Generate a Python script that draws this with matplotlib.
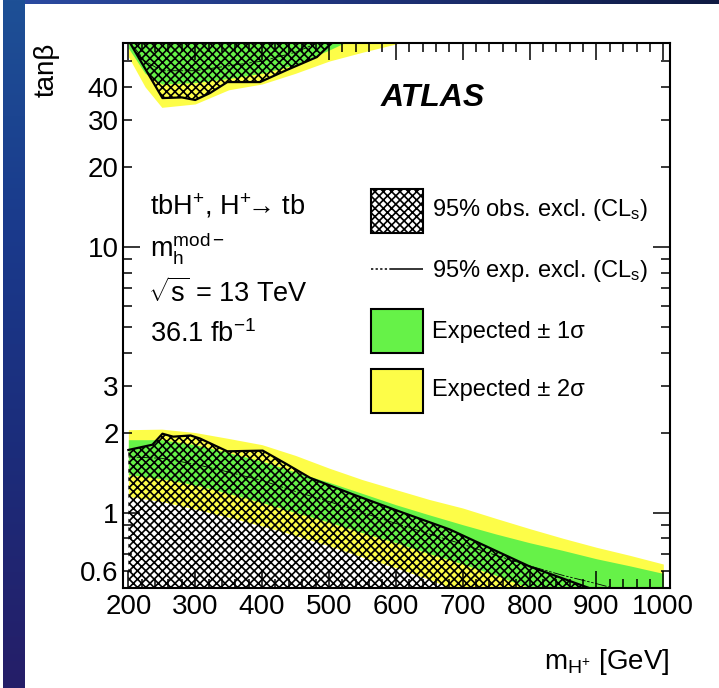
import numpy as np
import matplotlib
matplotlib.use("Agg")
import matplotlib.pyplot as plt
from matplotlib.patches import Rectangle
from matplotlib.lines import Line2D
from matplotlib.colors import LinearSegmentedColormap
from matplotlib.ticker import FixedLocator, MultipleLocator, FuncFormatter

plt.rcParams["font.family"] = ["Liberation Sans", "DejaVu Sans"]
plt.rcParams["mathtext.fontset"] = "custom"
plt.rcParams["mathtext.rm"] = "Liberation Sans"
plt.rcParams["mathtext.it"] = "Liberation Sans:italic"
plt.rcParams["mathtext.bf"] = "Liberation Sans:bold"
plt.rcParams["hatch.linewidth"] = 1.2

W, H = 719, 688
GREEN = "#66f248"
YELLOW = "#fdfd48"

# ---- low tan(beta) exclusion: expected bands ----
m_band = [200, 250, 300, 350, 400, 450, 500, 550, 600, 650, 700, 750, 800, 850, 900, 950, 1000]
lo_p2 = [2.05, 2.06, 2.00, 1.90, 1.80, 1.64, 1.47, 1.33, 1.22, 1.12, 1.04, 0.95, 0.87, 0.80, 0.74, 0.69, 0.64]
lo_p1 = [1.88, 1.88, 1.80, 1.68, 1.56, 1.42, 1.30, 1.18, 1.07, 0.98, 0.90, 0.83, 0.77, 0.72, 0.67, 0.63, 0.59]
lo_exp = [1.62, 1.60, 1.52, 1.42, 1.32, 1.20, 1.10, 1.00, 0.91, 0.83, 0.76, 0.69, 0.63, 0.58, 0.54, 0.50, 0.47]
lo_m1 = [1.39, 1.34, 1.27, 1.18, 1.09, 1.00, 0.92, 0.84, 0.77, 0.70, 0.64, 0.58, 0.52, 0.47, 0.43, 0.40, 0.37]
lo_m2 = [1.15, 1.10, 1.03, 0.96, 0.89, 0.82, 0.75, 0.68, 0.62, 0.56, 0.50, 0.45, 0.41, 0.37, 0.34, 0.31, 0.29]

# observed, low tan(beta)
m_obs_lo = [200, 236, 251, 267, 293, 307, 348, 401, 437, 472, 536, 610, 681, 800, 889, 920]
obs_lo = [1.72, 1.80, 1.98, 1.93, 1.95, 1.90, 1.70, 1.71, 1.52, 1.35, 1.17, 1.00, 0.863, 0.627, 0.52, 0.48]

# ---- high tan(beta) exclusion ----
m_hi = [200, 225, 250, 300, 350, 400, 450, 500, 550, 600, 650]
hi_m2 = [52, 40, 33.5, 34.5, 39, 41, 45, 50, 54, 58, 63]
hi_m1 = [56, 45, 41, 41.5, 43, 45, 48.5, 55, 63, 70, 78]
hi_exp = [60, 50, 46, 46, 48, 50, 54, 61, 70, 78, 88]
hi_p1 = [75, 65, 60, 62, 66, 70, 76, 85, 95, 105, 115]
hi_p2 = [90, 80, 75, 78, 84, 90, 98, 108, 120, 130, 140]

m_obs_hi = [200, 251, 280, 300, 322, 348, 397, 437, 482, 501, 520]
obs_hi = [60, 36.3, 36.5, 35.7, 37.9, 41.7, 41.7, 46.3, 51.8, 57.5, 63]

y_major = [1, 10]
y_minor = [0.6, 0.7, 0.8, 0.9, 2, 3, 4, 5, 6, 7, 8, 9, 20, 30, 40, 50]
y_labelled = [0.6, 1, 2, 3, 10, 20, 30, 40]

fig = plt.figure(figsize=(W / 100, H / 100), dpi=100)
fig.patch.set_facecolor("white")


def fx(x):
    return x / W


def fy(y):
    return 1 - y / H


# slide decoration: blue strips
strip_l = fig.add_axes([fx(3), 0, 22 / W, 1])
cm_l = LinearSegmentedColormap.from_list("l", ["#1e5096", "#1a3a8c", "#1c2c7a", "#251e68"])
strip_l.imshow(np.linspace(0, 1, 256)[:, None], aspect="auto", cmap=cm_l)
strip_l.axis("off")
strip_t = fig.add_axes([fx(25), fy(4), (W - 25) / W, 4 / H])
cm_t = LinearSegmentedColormap.from_list("t", ["#2b4aa0", "#1e3278", "#0f1a42"])
strip_t.imshow(np.linspace(0, 1, 256)[None, :], aspect="auto", cmap=cm_t)
strip_t.axis("off")

ax = fig.add_axes([fx(123), fy(588), (670 - 123) / W, (588 - 43) / H])
ax.set_yscale("log")
ax.set_xlim(192, 1010)
ax.set_ylim(0.52, 58.5)

# bands
ax.fill_between(m_band, lo_m2, lo_p2, color=YELLOW, lw=0)
ax.fill_between(m_band, lo_m1, lo_p1, color=GREEN, lw=0)
ax.fill_between(m_hi, hi_m2, hi_p2, color=YELLOW, lw=0)
ax.fill_between(m_hi, hi_m1, hi_p1, color=GREEN, lw=0)
ax.plot(m_band, lo_exp, color="k", lw=0.6, ls=(0, (3, 2, 3, 2, 14, 2)))
ax.plot(m_hi, hi_exp, color="k", lw=0.6, ls=(0, (3, 2, 3, 2, 14, 2)))

# observed
ax.fill_between(m_obs_lo, 0.1, obs_lo, facecolor="none", edgecolor="k", hatch="xxxx", lw=0)
ax.fill_between(m_obs_hi, obs_hi, 200, facecolor="none", edgecolor="k", hatch="xxxx", lw=0)
ax.plot(m_obs_lo, obs_lo, color="k", lw=1.6)
ax.plot(m_obs_hi, obs_hi, color="k", lw=1.6)

# axes styling
for s in ax.spines.values():
    s.set_linewidth(1.5)
ax.xaxis.set_major_locator(MultipleLocator(100))
ax.xaxis.set_minor_locator(MultipleLocator(20))
ax.yaxis.set_major_locator(FixedLocator(y_major))
ax.yaxis.set_minor_locator(FixedLocator(y_minor))


def ylab(v, pos):
    for t in y_labelled:
        if abs(v - t) < 1e-6:
            return f"{t:g}"
    return ""


ax.yaxis.set_major_formatter(FuncFormatter(ylab))
ax.yaxis.set_minor_formatter(FuncFormatter(ylab))
ax.tick_params(which="both", direction="in", top=True, right=True, width=1.1, labelsize=20)
ax.tick_params(which="major", length=12)
ax.tick_params(which="minor", length=6.5)
ax.tick_params(axis="x", which="both", pad=4)
ax.tick_params(axis="y", which="both", pad=3)

# labels
fig.text(fx(47), fy(43), "tanβ", rotation=90, ha="center", va="top", fontsize=20)
fig.text(fx(670), fy(662), r"$\mathregular{m_{H^{+}}}$ [GeV]", ha="right", va="center", fontsize=20)
fig.text(fx(381), fy(98), "ATLAS", ha="left", va="center", fontsize=23, fontweight="bold", style="italic")

fig.text(fx(150), fy(215), r"tbH$^{+}$, H$^{+}$$\!$→ tb", ha="left", va="baseline", fontsize=19.5)
fig.text(fx(150), fy(256), r"$\mathregular{m_{h}^{mod-}}$", ha="left", va="baseline", fontsize=19.5)
fig.text(fx(148), fy(302), r"$\sqrt{\mathregular{s}}$ = 13 TeV", ha="left", va="baseline", fontsize=19.5)
fig.text(fx(150), fy(342), r"36.1 fb$^{-1}$", ha="left", va="baseline", fontsize=19.5)

# legend
bx, bw = 371, 52
fig.add_artist(Rectangle((fx(bx), fy(233)), bw / W, 44 / H, transform=fig.transFigure,
                         facecolor="white", edgecolor="k", hatch="xxxx", lw=1.5))
fig.add_artist(Line2D([fx(bx), fx(bx + bw)], [fy(269), fy(269)], transform=fig.transFigure,
                      color="k", lw=1.1, ls=(0, (1.5, 1.5, 1.5, 1.5, 1.5, 1.5, 1.5, 1.5, 25, 50))))
fig.add_artist(Rectangle((fx(bx), fy(353)), bw / W, 44 / H, transform=fig.transFigure,
                         facecolor=GREEN, edgecolor="k", lw=1.5))
fig.add_artist(Rectangle((fx(bx), fy(413)), bw / W, 44 / H, transform=fig.transFigure,
                         facecolor=YELLOW, edgecolor="k", lw=1.5))

lt = 432
fig.text(fx(lt), fy(216), r"95% obs. excl. (CL$_{\mathregular{s}}$)", ha="left", va="baseline", fontsize=17)
fig.text(fx(lt), fy(277), r"95% exp. excl. (CL$_{\mathregular{s}}$)", ha="left", va="baseline", fontsize=17)
fig.text(fx(lt), fy(338), "Expected ± 1σ", ha="left", va="baseline", fontsize=17)
fig.text(fx(lt), fy(396), "Expected ± 2σ", ha="left", va="baseline", fontsize=17)

fig.savefig("out.png", dpi=100)
